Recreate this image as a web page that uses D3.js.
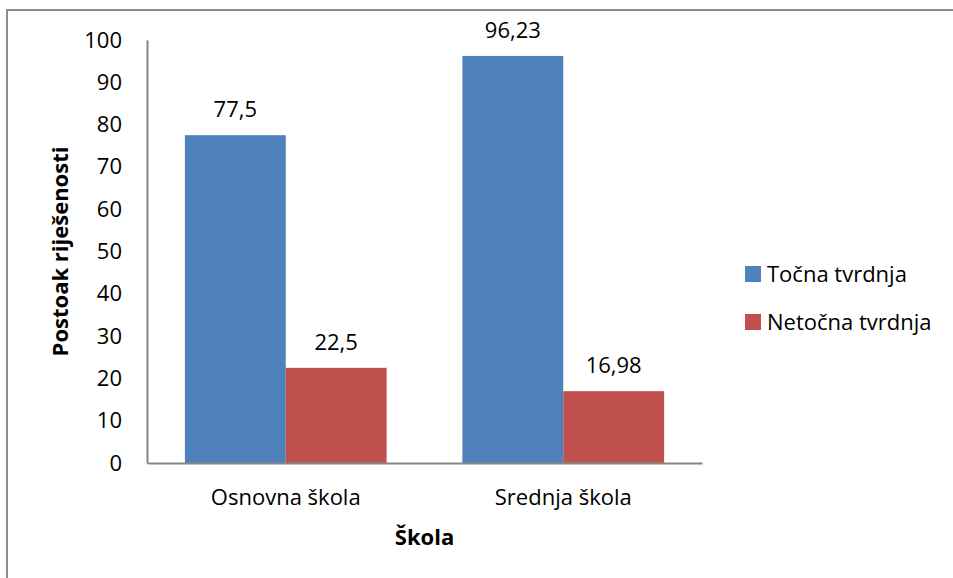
<!DOCTYPE html>
<meta charset="utf-8">
<script src="https://d3js.org/d3.v7.min.js"></script>
<style>
  body { margin: 0; background: white; }
  text { font-family: "Open Sans", sans-serif; fill: #000; }
</style>
<div id="chart"></div>
<script>
  var categories = ["Osnovna škola", "Srednja škola"];
  var seriesNames = ["Točna tvrdnja", "Netočna tvrdnja"];
  var tocna = [77.5, 96.23];
  var netocna = [22.5, 16.98];
  var valueLabels = [["77,5", "22,5"], ["96,23", "16,98"]];
  var yTicks = [0, 10, 20, 30, 40, 50, 60, 70, 80, 90, 100];
  var colors = ["#4f81bd", "#c0504d"];

  var width = 953, height = 578;
  var margin = {top: 40, right: 251, bottom: 115, left: 147};
  var fs = "22px";

  var svg = d3.select("#chart").append("svg")
      .attr("width", width)
      .attr("height", height);

  // outer frame (only left and top show in the picture)
  svg.append("rect")
    .attr("x", 7).attr("y", 10)
    .attr("width", 1000).attr("height", 1000)
    .attr("fill", "none")
    .attr("stroke", "#8c8c8c")
    .attr("stroke-width", 2);

  var g = svg.append("g")
    .attr("transform", "translate(" + margin.left + "," + margin.top + ")");

  var w = width - margin.left - margin.right,
      h = height - margin.top - margin.bottom;

  var x0 = d3.scaleBand()
    .domain(categories)
    .range([0, w])
    .paddingInner(0.273)
    .paddingOuter(0.1365);

  var x1 = d3.scaleBand()
    .domain([0, 1])
    .range([0, x0.bandwidth()]);

  var y = d3.scaleLinear()
    .domain([0, 100])
    .range([h, 0]);

  var data = categories.map(function(c, i) {
    return {cat: c, vals: [tocna[i], netocna[i]], labels: valueLabels[i]};
  });

  // y axis
  var yAxis = g.append("g")
    .call(d3.axisLeft(y).tickValues(yTicks).tickSize(0).tickPadding(25));
  yAxis.select(".domain").attr("stroke", "#868686").attr("stroke-width", 2);
  yAxis.selectAll("text")
    .style("font-family", "Open Sans")
    .style("font-size", fs);

  var groups = g.selectAll(".grp")
    .data(data)
    .enter().append("g")
      .attr("class", "grp")
      .attr("transform", function(d) { return "translate(" + x0(d.cat) + ",0)"; });

  groups.selectAll("rect")
    .data(function(d) { return d.vals.map(function(v, k) { return {k: k, v: v}; }); })
    .enter().append("rect")
      .attr("x", function(d) { return x1(d.k); })
      .attr("y", function(d) { return y(d.v); })
      .attr("width", x1.bandwidth())
      .attr("height", function(d) { return h - y(d.v); })
      .attr("fill", function(d) { return colors[d.k]; });

  groups.selectAll(".lbl")
    .data(function(d) { return d.vals.map(function(v, k) { return {k: k, v: v, t: d.labels[k]}; }); })
    .enter().append("text")
      .attr("class", "lbl")
      .attr("x", function(d) { return x1(d.k) + x1.bandwidth() / 2; })
      .attr("y", function(d) { return y(d.v) - 18; })
      .attr("text-anchor", "middle")
      .style("font-size", fs)
      .text(function(d) { return d.t; });

  // x axis
  var xAxis = g.append("g")
    .attr("transform", "translate(0," + h + ")")
    .call(d3.axisBottom(x0).tickSize(0).tickPadding(26).tickSizeOuter(0));
  xAxis.select(".domain").attr("stroke", "#868686").attr("stroke-width", 2);
  xAxis.selectAll("text")
    .style("font-family", "Open Sans")
    .style("font-size", fs);

  // axis titles
  g.append("text")
    .attr("x", w / 2)
    .attr("y", h + 82)
    .attr("text-anchor", "middle")
    .style("font-size", fs)
    .style("font-weight", "bold")
    .text("Škola");

  g.append("text")
    .attr("transform", "translate(" + (-79) + "," + (h / 2) + ") rotate(-90)")
    .attr("text-anchor", "middle")
    .style("font-size", fs)
    .style("font-weight", "bold")
    .text("Postoak riješenosti");

  // legend
  var legend = svg.append("g")
    .attr("transform", "translate(745,266)");
  var items = legend.selectAll("g")
    .data(seriesNames)
    .enter().append("g")
      .attr("transform", function(d, i) { return "translate(0," + i * 48 + ")"; });
  items.append("rect")
    .attr("width", 16).attr("height", 16)
    .attr("fill", function(d, i) { return colors[i]; });
  items.append("text")
    .attr("x", 22)
    .attr("y", 16)
    .style("font-size", fs)
    .text(function(d) { return d; });
</script>
